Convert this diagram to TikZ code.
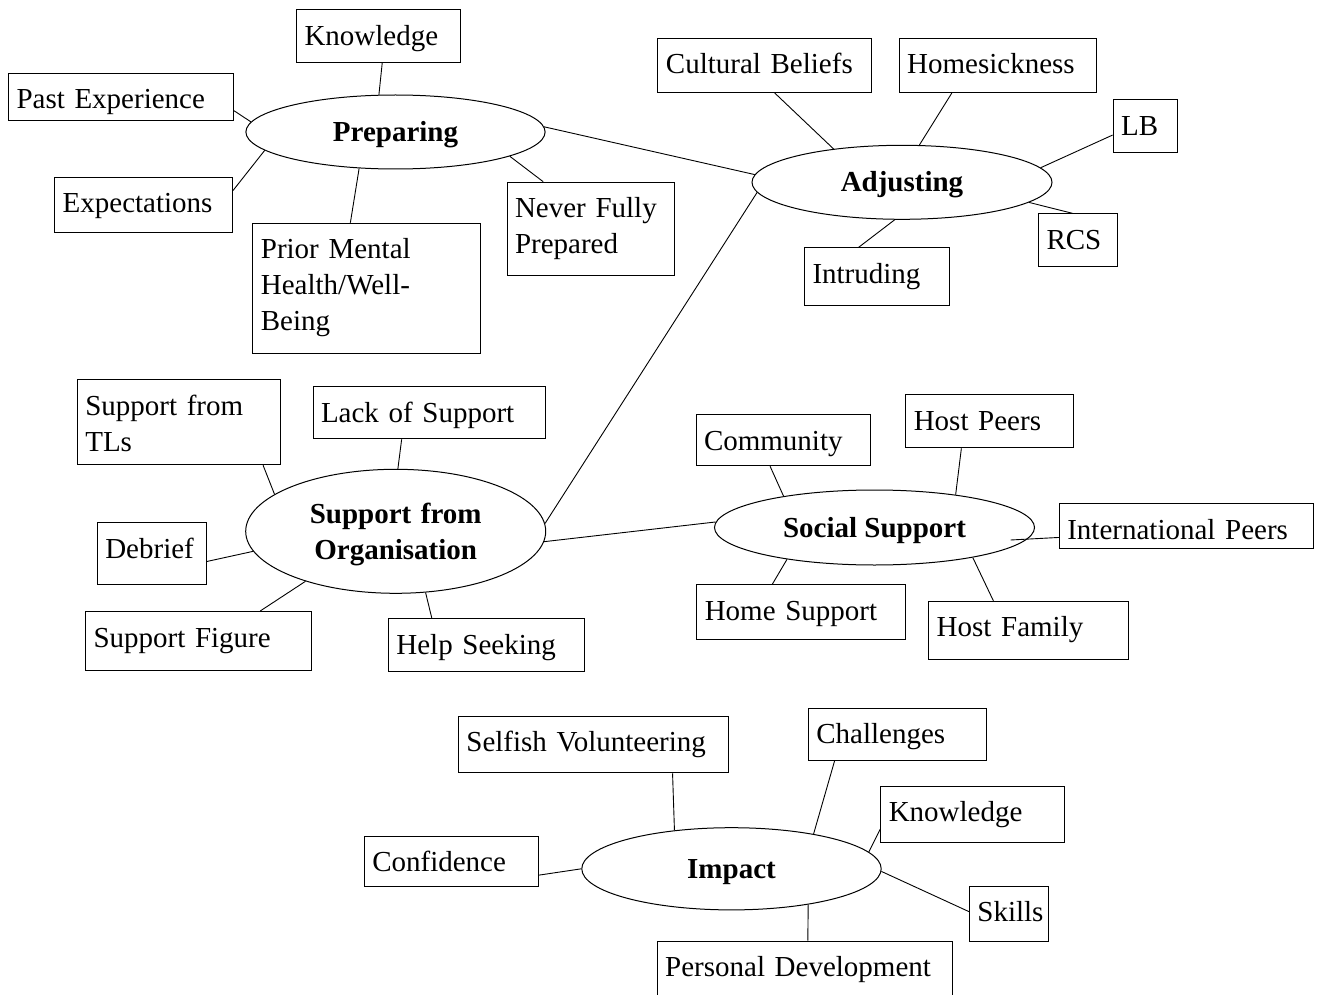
\documentclass[tikz,border=0pt]{standalone}
\usepackage{fontspec}
\setmainfont{Liberation Serif}
\usetikzlibrary{shapes.geometric,calc}

\tikzset{
  txt/.style={font=\fontsize{29}{36}\selectfont},
  % rectangular label box placed by its top-left corner: #1 = text width, #2 = depth below first baseline
  bx/.style 2 args={txt, draw, line width=1pt, anchor=north west, inner xsep=8pt, inner ysep=0pt,
    text height=35.5pt, text depth=#2, text width=#1, align=left},
  % central theme ellipse: #1 = width, #2 = height
  theme/.style 2 args={txt, draw, ellipse, line width=1pt, inner sep=0pt, font=\fontsize{29}{36}\selectfont\bfseries,
    minimum width=#1, minimum height=#2, text height=20pt, text depth=1pt},
  ln/.style={line width=0.9pt}
}

\begin{document}
\begin{tikzpicture}[x=1pt,y=-1pt]
\useasboundingbox (0,0) rectangle (1317,995);
\fill[white] (0,0) rectangle (1317,995);

% themes
\node[theme={299.2pt}{74pt}] (prep) at (395.5,132) {Preparing};
\node[theme={300pt}{74pt}] (adj) at (902,182.3) {Adjusting};
\node[theme={300pt}{124pt}, text width=200pt, align=center, text height=20pt, text depth=36pt] (sup) at (395.7,531.3) {Support from\\Organisation};
\node[theme={320pt}{75pt}] (soc) at (874.5,527.5) {Social Support};
\node[theme={299.4pt}{82.2pt}] (imp) at (731.5,868.8) {Impact};

% Preparing
\node[bx={148pt}{16.9pt}] (k1) at (296,9.3) {Knowledge};
\node[bx={209pt}{11.8pt}] (past) at (8,72.7) {Past Experience};
\node[bx={161.8pt}{19.5pt}] (expe) at (54.2,176.7) {Expectations};
\node[bx={211.6pt}{94.5pt}] (prior) at (252.4,222.7) {Prior Mental\\Health/Well-\\Being};
\node[bx={151pt}{58.1pt}] (never) at (506.5,181.7) {Never Fully\\Prepared};

% Adjusting
\node[bx={197.5pt}{18.8pt}] (cult) at (657.4,37.7) {Cultural Beliefs};
\node[bx={181.3pt}{18.8pt}] (home) at (898.7,37.7) {Homesickness};
\node[bx={48.3pt}{17.5pt}] (lb) at (1112.6,99.3) {LB};
\node[bx={62.5pt}{17.2pt}] (rcs) at (1038,213.3) {RCS};
\node[bx={129pt}{22.2pt}] (intr) at (804,247.3) {Intruding};

% Support from Organisation
\node[bx={186.8pt}{49.5pt}] (tls) at (76.8,379.3) {Support from\\TLs};
\node[bx={216.5pt}{16.8pt}] (lack) at (312.5,386) {Lack of Support};
\node[bx={92.9pt}{26.5pt}] (debr) at (96.8,522.3) {Debrief};
\node[bx={210.4pt}{23.5pt}] (fig) at (85,611) {Support Figure};
\node[bx={180.4pt}{16.9pt}] (help) at (387.9,618.3) {Help Seeking};

% Social Support
\node[bx={158.7pt}{15.5pt}] (comm) at (695.5,414.3) {Community};
\node[bx={151.4pt}{17.8pt}] (hpeer) at (905.3,394) {Host Peers};
\node[bx={237.9pt}{9.5pt}] (intl) at (1058.8,503.3) {International Peers};
\node[bx={193pt}{19.2pt}] (hsup) at (696.3,584) {Home Support};
\node[bx={183.6pt}{22.5pt}] (hfam) at (928.2,600.7) {Host Family};

% Impact
\node[bx={254pt}{21.1pt}] (self) at (457.9,715.7) {Selfish Volunteering};
\node[bx={162.1pt}{16.8pt}] (chal) at (807.8,707.7) {Challenges};
\node[bx={167.7pt}{21.1pt}] (k2) at (880.3,785.7) {Knowledge};
\node[bx={158.4pt}{14.5pt}] (conf) at (363.8,835.7) {Confidence};
\node[bx={63.1pt}{19.5pt}] (skil) at (968.9,885.7) {Skills};
\node[bx={278.8pt}{24.5pt}] (pers) at (656.7,940.7) {Personal Development};

% connectors
\draw[ln] (k1.-82.2) -- (prep.114.5);
\draw[ln] (past.-7.7) -- (prep.176.6);
\draw[ln] (expe.9.5) -- (prep.188.7);
\draw[ln] (prior.104.8) -- (prep.225.3);
\draw[ln] (never.135.7) -- (prep.-12.9);
\draw[ln] (prep.2.0) -- (adj.177.5);

\draw[ln] (cult.-70.7) -- (adj.154.9);
\draw[ln] (home.211.1) -- (adj.65.8);
\draw[ln] (lb.195.9) -- (adj.6.5);
\draw[ln] (rcs.101.4) -- (adj.-9.5);
\draw[ln] (intr.122.2) -- (adj.259.3);

\draw[ln] (sup.3.7) -- (adj.184.1);
\draw[ln] (sup.-4.5) -- (soc.178.7);
\draw[ln] (tls.-27.5) -- (sup.163.4);
\draw[ln] (lack.224.2) -- (sup.88.3);
\draw[ln] (debr.-8.8) -- (sup.188.1);
\draw[ln] (fig.26.2) -- (sup.209.0);
\draw[ln] (help.154.0) -- (sup.296.0);

\draw[ln] (comm.-117.2) -- (soc.161.7);
\draw[ln] (hpeer.224.2) -- (soc.22.4);
\draw[ln] (intl.185.6) -- ($(soc.center)+(136.1,12.5)$);
\draw[ln] (hsup.136.6) -- (soc.200.2);
\draw[ln] (hfam.140.0) -- (soc.-17.6);

\draw[ln] (self.-20.7) -- (imp.146.8);
\draw[ln] (chal.203.9) -- (imp.23.6);
\draw[ln] (k2.189.9) -- (imp.7.6);
\draw[ln] (conf.-9.3) -- (imp.180.8);
\draw[ln] (skil.177.8) -- (imp.-1.3);
\draw[ln] (pers.84.9) -- (imp.-25.7);
\end{tikzpicture}
\end{document}
